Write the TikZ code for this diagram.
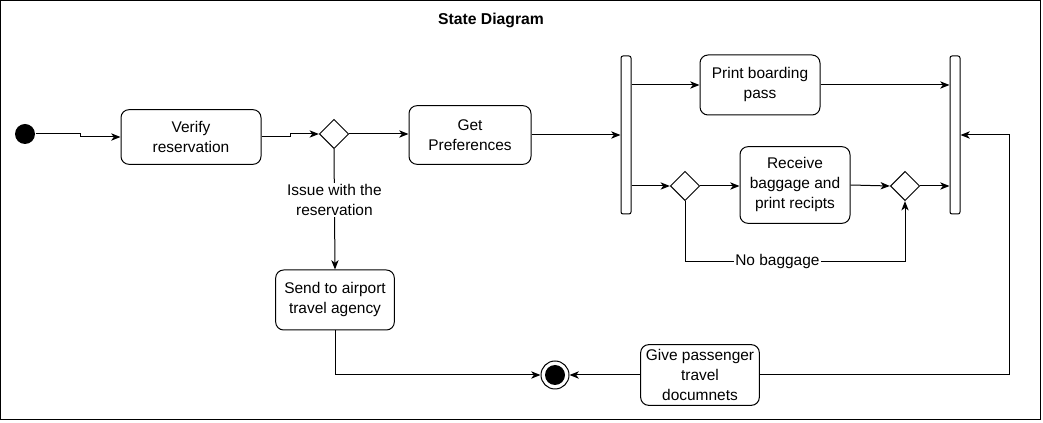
\documentclass[tikz,border=0pt]{standalone}
\usepackage{fontspec}
\setmainfont{Liberation Sans}
\usetikzlibrary{shapes.geometric,arrows.meta}

\begin{document}
\begin{tikzpicture}[x=0.75pt,y=-0.75pt,
  font=\fontsize{11.6}{15}\selectfont, line width=0.75pt,
  >={Stealth[length=7pt,width=5.5pt,inset=2pt]},
  state/.style = {draw, rounded corners=6pt, align=center, inner sep=2pt},
  choice/.style = {draw, diamond, aspect=1, inner sep=0pt, minimum size=22pt, fill=white},
  bar/.style = {draw, rounded corners=1.5pt, minimum width=7.5pt, minimum height=118.5pt, inner sep=0pt},
  start/.style = {circle, fill=black, inner sep=0pt, minimum size=15pt},
  stop/.style = {circle, draw, inner sep=0pt, minimum size=21pt,
    path picture={\fill (path picture bounding box.center) circle (7.5pt);}},
  lbl/.style = {fill=white, align=center, inner sep=1pt}]
\useasboundingbox (0,0) rectangle (1043,423);
\draw[line width=0.75pt] (0.5,0.5) rectangle (1040,420);
\node[font=\fontsize{11.8}{13}\selectfont\bfseries] (title) at (491,20) {State Diagram};

\node[start] (init) at (25,134) {};
\node[state, minimum width=105pt, minimum height=41pt] (verify) at (191,137) {Verify\\reservation};
\node[choice] (d1) at (334,134) {};
\node[state, minimum width=91.5pt, minimum height=44pt] (pref) at (470,135) {Get\\Preferences};
\node[bar] (bar1) at (626,135) {};
\node[state, minimum width=90pt, minimum height=45pt] (print) at (760,85) {Print boarding\\pass};
\node[choice] (d2) at (685,186) {};
\node[state, minimum width=82.5pt, minimum height=57.5pt] (bag) at (795,185) {Receive\\baggage and\\print recipts};
\node[choice] (d3) at (905,186) {};
\node[bar] (bar2) at (955,135) {};
\node[state, minimum width=89pt, minimum height=45pt] (send) at (335,300) {Send to airport\\travel agency};
\node[state, minimum width=89pt, minimum height=45.5pt] (give) at (700,375) {Give passenger\\travel\\documnets};
\node[stop] (final) at (555,375) {};

\draw[->] (init.east) -- ++(45,0) |- (verify.west);
\draw[->] (verify.east) -- ++(29,0) |- (d1.west);
\draw[->] (d1.east) -- (d1.east -| pref.west);
\draw[->] (d1.south) -- node[lbl, pos=0.42] {Issue with the\\reservation} (send.north);
\draw[->] (pref.east) -- (pref.east -| bar1.west);
\draw[->] (print.west -| bar1.east) -- (print.west);
\draw[->] (d2.west -| bar1.east) -- (d2.west);
\draw[->] (d2.east) -- (d2.east -| bag.west);
\draw[->] (bag.east) -- (d3.west);
\draw[->] (d2.south) -- ++(0,60) -| node[lbl, pos=0.21] {No baggage} (d3.south);
\draw[->] (print.east) -- (print.east -| bar2.west);
\draw[->] (d3.east) -- (d3.east -| bar2.west);
\draw[->] (give.east) -- ++(250,0) |- (bar2.east);
\draw[->] (give.west) -- (final.east);
\draw[->] (send.south) |- (final.west);
\end{tikzpicture}
\end{document}
